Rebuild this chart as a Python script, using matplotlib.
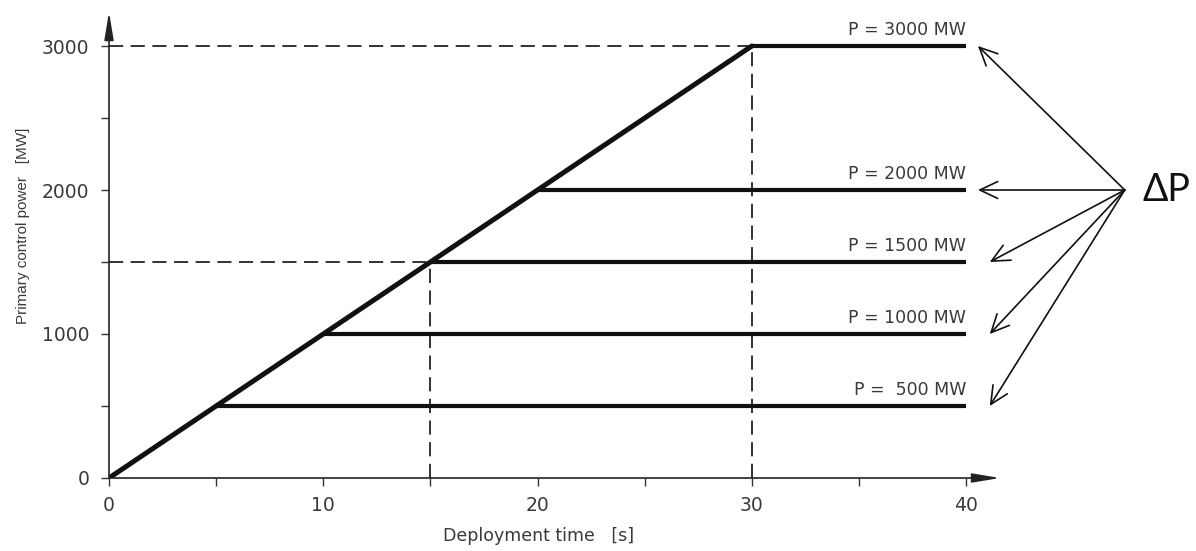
import matplotlib
matplotlib.use("Agg")
import matplotlib.pyplot as plt

# ---- data ----
ramp_x = [0, 30]
ramp_y = [0, 3000]
levels = [500, 1000, 1500, 2000, 3000]
level_start = [5, 10, 15, 20, 30]
level_end = 40
level_labels = ["P =  500 MW", "P = 1000 MW", "P = 1500 MW", "P = 2000 MW", "P = 3000 MW"]
ref_x = [15, 30]
ref_y = [1500, 3000]
x_ticks = [0, 5, 10, 15, 20, 25, 30, 35, 40]
x_ticklabels = ["0", "", "10", "", "20", "", "30", "", "40"]
y_ticks = [0, 500, 1000, 1500, 2000, 2500, 3000]
y_ticklabels = ["0", "", "1000", "", "2000", "", "3000"]
arrow_tip_x = [41.1, 41.1, 41.1, 40.55, 40.55]
delta_origin = (47.4, 2000)

TXT = "#3a3a3a"
LINE = "#111111"

fig = plt.figure(figsize=(11.96, 5.51), dpi=100)
ax = fig.add_axes([0.09114, 0.13249, 0.745, 0.8457])
ax.set_xlim(0, 41.58)
ax.set_ylim(0, 3236)

for s in ax.spines.values():
    s.set_visible(False)

# axis lines with arrowheads
ax.annotate("", xy=(1, 0), xycoords="axes fraction", xytext=(0, 0),
            arrowprops=dict(arrowstyle="-|>,head_length=1.2,head_width=0.2",
                            lw=1.2, color="#222222", shrinkA=0, shrinkB=0,
                            mutation_scale=14))
ax.annotate("", xy=(0, 1), xycoords="axes fraction", xytext=(0, 0),
            arrowprops=dict(arrowstyle="-|>,head_length=1.2,head_width=0.2",
                            lw=1.2, color="#222222", shrinkA=0, shrinkB=0,
                            mutation_scale=14))

# dashed reference lines
for rx, ry in zip(ref_x, ref_y):
    ax.plot([0, rx], [ry, ry], color=LINE, lw=1.2, linestyle=(0, (8.5, 4.5)))
    ax.plot([rx, rx], [0, ry], color=LINE, lw=1.2, linestyle=(0, (8.5, 4.5)))

# ramp
ax.plot(ramp_x, ramp_y, color=LINE, lw=3.6, solid_capstyle="round")

# levels
for lv, st, lab in zip(levels, level_start, level_labels):
    ax.plot([st, level_end], [lv, lv], color=LINE, lw=3.0, solid_capstyle="butt")
    ax.annotate(lab, xy=(level_end, lv), xytext=(0, 5), textcoords="offset points",
                ha="right", va="bottom", fontsize=12.5, color=TXT)

# delta P arrows
for lv, tx in zip(levels, arrow_tip_x):
    ax.annotate("", xy=(tx, lv), xytext=delta_origin, annotation_clip=False,
                arrowprops=dict(arrowstyle="->,head_length=0.8,head_width=0.38",
                                lw=1.2, color="#111111", shrinkA=0, shrinkB=0,
                                mutation_scale=16))
ax.text(delta_origin[0] + 0.85, delta_origin[1], "ΔP", fontsize=27, color="#111111",
        ha="left", va="center", family=["Lato", "DejaVu Sans"], clip_on=False)

# ticks
ax.set_xticks(x_ticks)
ax.set_xticklabels(x_ticklabels)
ax.set_yticks(y_ticks)
ax.set_yticklabels(y_ticklabels)
ax.tick_params(axis="both", direction="out", length=6, width=1.0, color="#333333",
               labelsize=13.5, labelcolor=TXT)
ax.tick_params(axis="x", pad=7)
ax.tick_params(axis="y", pad=8)

ax.set_xlabel("Deployment time   [s]", fontsize=12.5, color=TXT)
ax.set_ylabel("Primary control power   [MW]", fontsize=11, color=TXT,
              family=["Liberation Sans", "DejaVu Sans"])
ax.xaxis.set_label_coords(0.4826, -0.105)
ax.yaxis.set_label_coords(-0.089, 0.541)

fig.savefig("out.png", dpi=100)
